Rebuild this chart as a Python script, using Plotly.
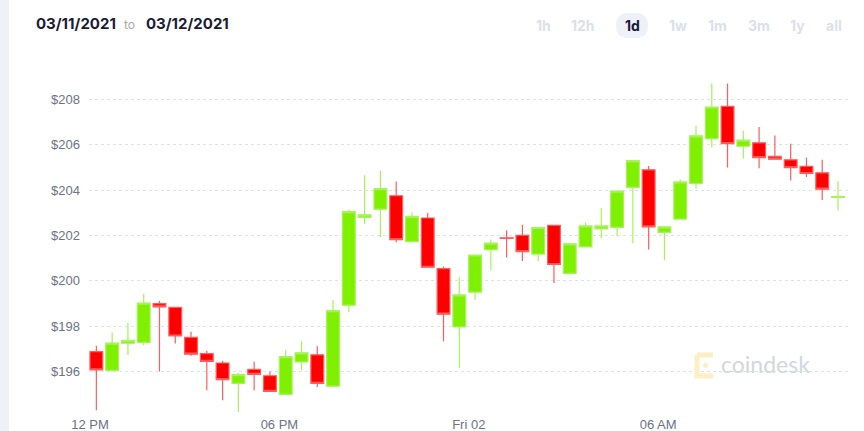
import plotly.graph_objects as go
import pandas as pd

# ---- data ----
start_time = "2021-04-01 12:12"
n_candles = 48
times = pd.date_range(start_time, periods=n_candles, freq="30min")

opens = [196.88, 196.06, 197.25, 197.29, 199.00, 198.83, 197.51, 196.79, 196.38, 195.48, 196.10, 195.82,
         195.00, 196.43, 196.74, 195.36, 198.93, 202.80, 203.16, 203.75, 201.73, 202.77, 200.54, 197.97,
         199.50, 201.37, 201.90, 202.01, 201.18, 202.44, 200.33, 201.50, 202.29, 202.36, 204.12, 204.89,
         202.14, 202.72, 204.29, 206.26, 207.69, 205.93, 206.08, 205.48, 205.33, 205.05, 204.76, 203.68]
closes = [196.08, 197.26, 197.38, 199.02, 198.85, 197.57, 196.77, 196.45, 195.65, 195.87, 195.88, 195.13,
          196.66, 196.83, 195.48, 198.69, 203.05, 202.91, 204.06, 201.82, 202.84, 200.60, 198.53, 199.38,
          201.14, 201.66, 201.87, 201.29, 202.35, 200.72, 201.63, 202.42, 202.42, 203.95, 205.30, 202.38,
          202.38, 204.36, 206.39, 207.66, 206.05, 206.20, 205.43, 205.36, 204.99, 204.73, 204.04, 203.71]
highs = [197.14, 197.73, 198.15, 199.43, 199.12, 198.86, 197.76, 196.92, 196.48, 195.94, 196.44, 196.01,
         196.96, 197.34, 197.12, 199.16, 203.13, 204.65, 204.85, 204.38, 203.02, 202.99, 200.63, 200.16,
         201.16, 201.82, 202.23, 202.47, 202.38, 202.47, 201.67, 202.57, 203.21, 203.98, 205.34, 205.06,
         202.40, 204.48, 206.83, 208.70, 208.70, 206.61, 206.78, 206.40, 206.04, 205.42, 205.33, 204.39]
lows = [194.30, 196.05, 196.73, 197.16, 196.01, 197.24, 196.69, 195.18, 194.74, 194.22, 195.18, 195.10,
        195.00, 196.07, 195.32, 195.36, 198.62, 202.52, 201.92, 201.70, 201.70, 200.60, 197.34, 196.16,
        199.16, 200.47, 201.03, 200.88, 200.88, 199.91, 200.33, 201.50, 201.88, 201.97, 201.66, 201.38,
        200.91, 202.72, 204.06, 205.87, 204.99, 205.38, 204.96, 205.36, 204.42, 204.57, 203.56, 203.10]

y_tick_vals = [196, 198, 200, 202, 204, 206, 208]
y_tick_text = ["$196", "$198", "$200", "$202", "$204", "$206", "$208"]
x_tick_vals = ["2021-04-01 12:00", "2021-04-01 18:00", "2021-04-02 00:00", "2021-04-02 06:00"]
x_tick_text = ["12 PM", "06 PM", "Fri 02", "06 AM"]
date_from = "03/11/2021"
date_to = "03/12/2021"
periods = ["1h", "12h", "1d", "1w", "1m", "3m", "1y", "all"]
period_x = [543, 583, 632, 678, 717, 759, 797, 834]

W, H = 864, 431
ML, MR, MT, MB = 89, 16, 60, 16

fig = go.Figure()
fig.add_trace(go.Candlestick(
    x=times, open=opens, high=highs, low=lows, close=closes,
    increasing=dict(fillcolor="#7ef000", line=dict(color="#a6f25a", width=1.2)),
    decreasing=dict(fillcolor="#ff0000", line=dict(color="#ff5c5c", width=1.2)),
    whiskerwidth=0, hoverinfo="skip", showlegend=False,
))

fig.update_layout(
    width=W, height=H,
    margin=dict(l=ML, r=MR, t=MT, b=MB, autoexpand=False),
    paper_bgcolor="white", plot_bgcolor="white",
    boxgap=0.1, boxgroupgap=0.1,
    showlegend=False,
    xaxis=dict(
        type="date", rangeslider=dict(visible=False), automargin=False,
        range=["2021-04-01 11:58", "2021-04-02 12:01"],
        tickvals=x_tick_vals, ticktext=x_tick_text,
        showgrid=False, zeroline=False, showline=False, ticks="",
        tickfont=dict(family="Liberation Sans, Arial", size=13, color="#6b7385"),
    ),
    yaxis=dict(
        range=[194.09, 209.73], automargin=False,
        tickvals=y_tick_vals, ticktext=y_tick_text,
        showgrid=True, gridcolor="#dde1ea", griddash="dot", gridwidth=1,
        zeroline=False, showline=False, ticks="", ticklabelstandoff=8,
        tickfont=dict(family="Liberation Sans, Arial", size=13, color="#6b7385"),
    ),
)

PW, PH = W - ML - MR, H - MT - MB

def px_x(x):
    return (x - ML) / PW

def px_y(y):
    return (H - MB - y) / PH

shapes = []
# left strip
shapes.append(dict(type="rect", xref="paper", yref="paper", x0=px_x(0), x1=px_x(9),
                   y0=px_y(H + 5), y1=px_y(-5), fillcolor="#eef2f8", line=dict(width=0), layer="below"))

annotations = []
annotations.append(dict(text="<b>%s</b>" % date_from, x=px_x(34), y=px_y(24), xref="paper", yref="paper",
                        xanchor="left", yanchor="middle", showarrow=False,
                        font=dict(family="Inter, Roboto, Arial", size=15, color="#1a1c33")))
annotations.append(dict(text="to", x=px_x(129), y=px_y(25), xref="paper", yref="paper",
                        xanchor="center", yanchor="middle", showarrow=False,
                        font=dict(family="Inter, Roboto, Arial", size=12, color="#a3a8b8")))
annotations.append(dict(text="<b>%s</b>" % date_to, x=px_x(144), y=px_y(24), xref="paper", yref="paper",
                        xanchor="left", yanchor="middle", showarrow=False,
                        font=dict(family="Inter, Roboto, Arial", size=15, color="#1a1c33")))

for p, xc in zip(periods, period_x):
    active = p == "1d"
    annotations.append(dict(text="<b>%s</b>" % p, x=px_x(xc), y=px_y(26), xref="paper", yref="paper",
                            xanchor="center", yanchor="middle", showarrow=False,
                            font=dict(family="Inter, Roboto, Arial", size=14,
                                      color="#151a3a" if active else "#dcdfea")))

# pill behind "1d"
shapes.append(dict(type="path", xref="paper", yref="paper",
                   path="M {a},{b} L {c},{b} Q {d},{b} {d},{e} Q {d},{f} {c},{f} L {a},{f} Q {g},{f} {g},{e} Q {g},{b} {a},{b} Z".format(
                       a=px_x(628), c=px_x(636), d=px_x(648), g=px_x(616),
                       b=px_y(13), e=px_y(25.5), f=px_y(38)),
                   fillcolor="#eef1f8", line=dict(width=0), layer="below"))

# watermark
annotations.append(dict(text="coindesk", x=px_x(719), y=px_y(364), xref="paper", yref="paper",
                        xanchor="left", yanchor="middle", showarrow=False,
                        font=dict(family="Lato, Open Sans, Arial", size=23, color="#d3d6e0")))
shapes.append(dict(type="path", xref="paper", yref="paper",
                   path="M {a},{b} L {c},{b} M {a},{b} L {a},{d} L {c},{d}".format(
                       a=px_x(697), c=px_x(713), b=px_y(355), d=px_y(376)),
                   line=dict(color="#fcefc6", width=5)))
shapes.append(dict(type="circle", xref="paper", yref="paper",
                   x0=px_x(703), x1=px_x(708), y0=px_y(368), y1=px_y(363),
                   fillcolor="#fcefc6", line=dict(width=0)))

fig.update_layout(shapes=shapes, annotations=annotations)

fig.write_html("out.html")
